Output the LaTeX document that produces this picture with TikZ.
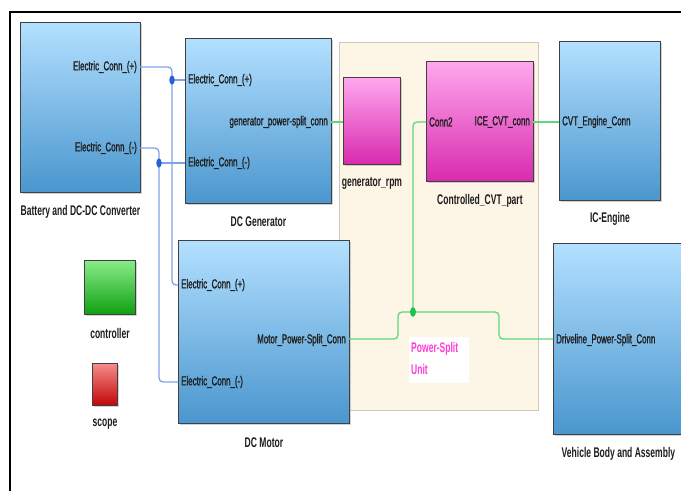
\documentclass[tikz,border=0pt]{standalone}
\usepackage{fontspec}
\setmainfont{Liberation Sans}[FakeStretch=0.61]
\newfontfamily\portfont{Liberation Sans}[FakeStretch=0.61, FakeBold=1.1]
\usetikzlibrary{shadows}

\definecolor{blkTop}{HTML}{B3E0FF}
\definecolor{blkMid}{HTML}{93C9F1}
\definecolor{blkBot}{HTML}{4A96CE}
\definecolor{magTop}{HTML}{FFA8EE}
\definecolor{magMid}{HTML}{F27CDC}
\definecolor{magBot}{HTML}{D82AAE}
\definecolor{grnTop}{HTML}{88EC88}
\definecolor{grnBot}{HTML}{10A010}
\definecolor{redTop}{HTML}{F68C8C}
\definecolor{redBot}{HTML}{C20606}
\definecolor{elecWire}{HTML}{7EA3EC}
\definecolor{elecDot}{HTML}{2A62D6}
\definecolor{mechWire}{HTML}{5ADA7A}
\definecolor{mechDot}{HTML}{1EC050}
\definecolor{areaFill}{HTML}{FDF5E6}
\definecolor{areaEdge}{HTML}{CFC7B8}
\definecolor{psuText}{HTML}{FF3CD6}
\definecolor{txt}{HTML}{1E1E1E}

\tikzset{
  blk/.style={draw=black!75, line width=0.9pt, inner sep=0pt, anchor=north west,
    drop shadow={shadow xshift=1.2pt, shadow yshift=-1.2pt, opacity=0.35}},
  blueblk/.style={blk, top color=blkTop, middle color=blkMid, bottom color=blkBot},
  magblk/.style={blk, top color=magTop, middle color=magMid, bottom color=magBot},
  grnblk/.style={blk, top color=grnTop, bottom color=grnBot},
  redblk/.style={blk, top color=redTop, bottom color=redBot},
  portlbl/.style={text=txt, font=\portfont\fontsize{13}{15}\selectfont, inner sep=0pt},
  blkname/.style={text=txt, font=\fontsize{14}{16}\selectfont\bfseries, inner sep=0pt},
  ewire/.style={draw=elecWire, line width=1.3pt, rounded corners=4pt},
  mwire/.style={draw=mechWire, line width=1.3pt, rounded corners=4pt},
  edot/.style={fill=elecDot, x radius=2.7pt, y radius=4.6pt},
  mdot/.style={fill=mechDot, x radius=3pt, y radius=4.8pt},
}

\begin{document}
\begin{tikzpicture}[x=1pt, y=-1pt]
  \useasboundingbox (0,0) rectangle (681,491);
  \clip (0,0) rectangle (681,491);
  \fill[white] (0,0) rectangle (681,491);

  % model frame
  \draw[line width=2pt] (10,491) -- (10,12) -- (681,12);

  % power-split subsystem area
  \node[fill=areaFill, draw=areaEdge, line width=0.8pt, inner sep=0pt, anchor=north west,
        minimum width=199pt, minimum height=368pt] (area) at (339,42) {};

  % blocks
  \node[blueblk, minimum width=120pt, minimum height=170pt] (bat) at (20,22) {};
  \node[blueblk, minimum width=146pt, minimum height=165pt] (gen) at (185,38) {};
  \node[blueblk, minimum width=171pt, minimum height=183pt] (mot) at (178,240) {};
  \node[grnblk, minimum width=51pt, minimum height=54pt] (ctrl) at (84,260) {};
  \node[redblk, minimum width=25pt, minimum height=42pt] (scp) at (92,363) {};
  \node[magblk, minimum width=57pt, minimum height=87pt] (rpm) at (343,77) {};
  \node[magblk, minimum width=107pt, minimum height=120pt] (cvt) at (426,61) {};
  \node[blueblk, minimum width=101pt, minimum height=159pt] (ice) at (559,41) {};
  \node[blueblk, minimum width=130pt, minimum height=191pt] (veh) at (553,243) {};

  % block names
  \node[blkname] (batN) at ([yshift=-18.5pt]bat.south) {Battery and DC-DC Converter};
  \node[blkname] (genN) at ([yshift=-17.5pt]gen.south) {DC Generator};
  \node[blkname] (motN) at ([yshift=-19pt]mot.south) {DC Motor};
  \node[blkname] (ctrlN) at ([yshift=-19pt]ctrl.south) {controller};
  \node[blkname] (scpN) at ([yshift=-18pt]scp.south) {scope};
  \node[blkname] (rpmN) at ([yshift=-19pt]rpm.south) {generator\_rpm};
  \node[blkname] (cvtN) at ([yshift=-19pt]cvt.south) {Controlled\_CVT\_part};
  \node[blkname] (iceN) at ([yshift=-18pt]ice.south) {IC-Engine};
  \node[blkname] (vehN) at ([yshift=-19pt]veh.south) {Vehicle Body and Assembly};

  % port labels
  \node[portlbl, anchor=east] (batPL) at (137,67) {Electric\_Conn\_(+)};
  \node[portlbl, anchor=east] (batML) at (137,148) {Electric\_Conn\_(-)};
  \node[portlbl, anchor=west] (genPL) at (188,80) {Electric\_Conn\_(+)};
  \node[portlbl, anchor=east] (genSL) at (328,122) {generator\_power-split\_conn};
  \node[portlbl, anchor=west] (genML) at (188,163) {Electric\_Conn\_(-)};
  \node[portlbl, anchor=west] (motPL) at (181,285) {Electric\_Conn\_(+)};
  \node[portlbl, anchor=east] (motSL) at (346,340) {Motor\_Power-Split\_Conn};
  \node[portlbl, anchor=west] (motML) at (181,382) {Electric\_Conn\_(-)};
  \node[portlbl, anchor=west] (cvtIL) at (429,122) {Conn2};
  \node[portlbl, anchor=east] (cvtOL) at (530,122) {ICE\_CVT\_conn};
  \node[portlbl, anchor=west] (iceL) at (562,122) {CVT\_Engine\_Conn};
  \node[portlbl, anchor=west] (vehL) at (556,340) {Driveline\_Power-Split\_Conn};

  % label of the power-split unit
  \node[fill=white, inner sep=0pt, anchor=north west, minimum width=60pt, minimum height=46pt] (psuBox) at (409,337) {};
  \node[anchor=north west, inner sep=0pt, align=left, text=psuText,
        font=\fontsize{14}{22}\selectfont\bfseries] (psuText) at (411,342) {Power-Split\\Unit};

  % port points
  \coordinate (batP) at (140,67);
  \coordinate (batM) at (140,148);
  \coordinate (genP) at (185,80);
  \coordinate (genM) at (185,163);
  \coordinate (motP) at (178,285);
  \coordinate (motM) at (178,382);
  \coordinate (jP) at (172,80);
  \coordinate (jM) at (159,163);
  \coordinate (genS) at (331,122);
  \coordinate (rpmIn) at (343,122);
  \coordinate (cvtIn) at (426,122);
  \coordinate (cvtOut) at (533,122);
  \coordinate (iceIn) at (559,122);
  \coordinate (motS) at (349,339);
  \coordinate (vehIn) at (553,339);
  \coordinate (jG) at (413,312);
  \coordinate (bendL) at (398,312);
  \coordinate (bendR) at (499,312);

  % electrical connections
  \draw[ewire] (batP) -| (jP) |- (motP);
  \draw[ewire] (jP) -- (genP);
  \draw[ewire] (batM) -| (jM) |- (motM);
  \draw[ewire] (jM) -- (genM);
  \fill[edot] (jP) ellipse[];
  \fill[edot] (jM) ellipse[];

  % mechanical connections
  \draw[mwire] (genS) -- (rpmIn);
  \draw[mwire] (cvtOut) -- (iceIn);
  \draw[mwire] (cvtIn) -| (jG);
  \draw[mwire] (motS) -| (bendL) -- (jG) -- (bendR) |- (vehIn);
  \fill[mdot] (jG) ellipse[];
\end{tikzpicture}
\end{document}
